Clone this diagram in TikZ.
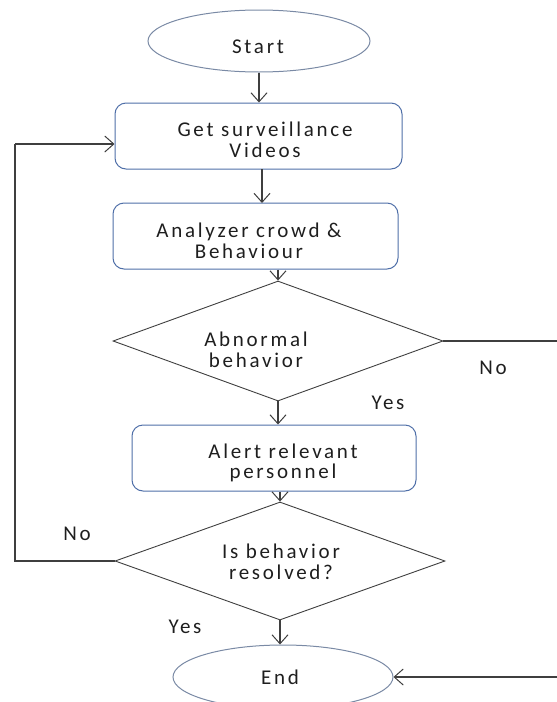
\documentclass[tikz,border=0pt]{standalone}
\usepackage{fontspec}
\setmainfont[LetterSpace=13]{Carlito}
\usetikzlibrary{shapes.geometric,arrows.meta}
\definecolor{boxblue}{HTML}{4F6FA8}
\definecolor{ellgray}{HTML}{7A8AA5}
\definecolor{linegray}{HTML}{3F3F3F}
\definecolor{txt}{HTML}{1E1E1E}
\begin{document}
\begin{tikzpicture}[x=1pt,y=-1pt,
  every node/.style={font=\fontsize{21}{20.5}\selectfont, text=txt, align=center},
  procbox/.style={draw=boxblue, line width=1pt, rounded corners=11pt, inner sep=0pt},
  term/.style={draw=ellgray, line width=1pt, ellipse, inner sep=0pt},
  decis/.style={draw=linegray, line width=0.9pt, diamond, inner sep=0pt},
  conn/.style={draw=linegray, line width=1.1pt, -{Straight Barb[length=9pt,width=16pt,line width=1pt]}},
  plain/.style={draw=linegray, line width=1.1pt}]
\useasboundingbox (0,0) rectangle (557,702);
\clip (0,0) rectangle (557,702);
\node[term, minimum width=222pt, minimum height=62pt] (start) at (259,41) {};
\node (startt) at (258,47) {Start};
\node[procbox, minimum width=287pt, minimum height=66pt] (get) at (258.5,136) {};
\node (gett) at (265,140) {Get surveillance\\Videos};
\node[procbox, minimum width=285pt, minimum height=66pt] (ana) at (255.5,236) {};
\node (anat) at (249,241) {Analyzer crowd \&\\Behaviour};
\node[decis, minimum width=330pt, minimum height=120pt] (dec1) at (278,341) {};
\node (dec1t) at (256,350) {Abnormal\\behavior};
\node[procbox, minimum width=284pt, minimum height=66pt] (alert) at (274,458) {};
\node (alertt) at (283,463) {Alert relevant\\personnel};
\node[decis, minimum width=330pt, minimum height=118pt] (dec2) at (280,561) {};
\node (dec2t) at (281,562) {Is behavior\\resolved?};
\node[term, minimum width=220pt, minimum height=64pt] (end) at (283,677) {};
\node (endt) at (280,677) {End};
\node (no1) at (493,368) {No};
\node (yes1) at (388,403) {Yes};
\node (no2) at (77,534) {No};
\node (yes2) at (185,627) {Yes};
\coordinate (l1) at (15,561);
\coordinate (l2) at (15,144);
\coordinate (r1) at (562,341);
\coordinate (r2) at (562,677);
\draw[conn] (start.south) -- (start.south |- get.north);
\draw[conn] (262,169) -- (262,203);
\draw[conn] (ana.south -| dec1.north) -- (dec1.north);
\draw[conn] (dec1.south) -- (dec1.south |- alert.north);
\draw[conn] (alert.south -| dec2.north) -- (dec2.north);
\draw[conn] (dec2.south) -- (dec2.south |- end.north);
\draw[plain] (dec2.west) -- (l1) -- (l2);
\draw[conn] (l2) -- (l2 -| get.west);
\draw[plain] (dec1.east) -- (r1) -- (r2);
\draw[conn] (r2) -- (end.east);
\end{tikzpicture}
\end{document}
